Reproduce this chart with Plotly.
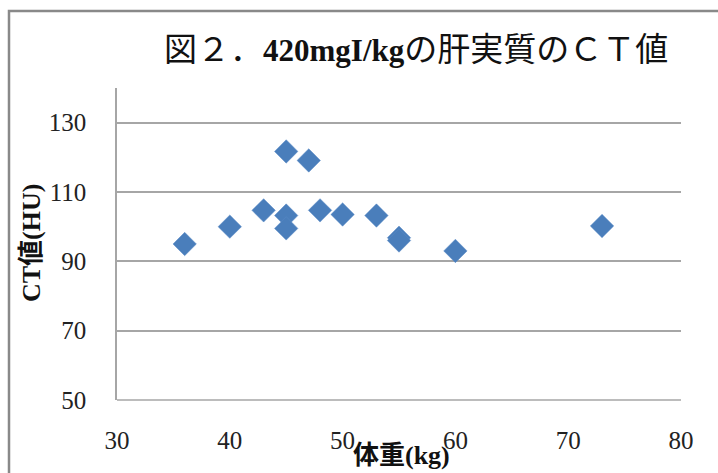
import plotly.graph_objects as go

weight = [36, 40, 43, 45, 45, 45, 47, 48, 50, 53, 55, 55, 60, 73]
ct_value = [95, 100, 104.7, 103.2, 99.5, 121.7, 119.1, 104.7, 103.5, 103.2, 96.8, 96.0, 93, 100.2]

title_parts = ["図２．", "420mgI/kg", "の肝実質のＣＴ値"]
x_title = "体重(kg)"
y_title = "CT値(HU)"
x_ticks = [30, 40, 50, 60, 70, 80]
y_ticks = [50, 70, 90, 110, 130]

W, H = 718, 473
L, R, T, B = 117, 37, 88, 73
pw, ph = W - L - R, H - T - B

def px_x(p):
    return (p - L) / pw

def px_y(p):
    return (H - B - p) / ph

serif = "Liberation Serif, DejaVu Serif, Noto Sans CJK JP, serif"

fig = go.Figure()
fig.add_trace(go.Scatter(
    x=weight, y=ct_value, mode="markers",
    marker=dict(symbol="diamond", size=18, color="#4A7EBB",
                line=dict(color="#5B8BC6", width=0.5)),
    showlegend=False, cliponaxis=False,
))

title_html = ('<span style="font-size:33px">' + title_parts[0] + '</span>'
              + '<b>' + title_parts[1] + '</b>'
              + '<span style="font-size:33px">' + title_parts[2] + '</span>')

fig.update_layout(
    width=W, height=H,
    margin=dict(l=L, r=R, t=T, b=B),
    paper_bgcolor="white", plot_bgcolor="white",
    xaxis=dict(range=[30, 80], tickvals=x_ticks, ticktext=[str(v) for v in x_ticks],
               showgrid=False, zeroline=False, showline=False,
               ticks="outside", ticklen=18, tickcolor="rgba(0,0,0,0)",
               tickfont=dict(family=serif, size=25, color="#222")),
    yaxis=dict(range=[50, 140], tickvals=y_ticks, ticktext=[str(v) for v in y_ticks],
               showgrid=True, gridcolor="#A6A6A6", gridwidth=1.5, zeroline=False,
               showline=True, linecolor="#A6A6A6", linewidth=1.5,
               ticks="outside", ticklen=24, tickcolor="rgba(0,0,0,0)",
               tickfont=dict(family=serif, size=25, color="#222")),
    shapes=[
        dict(type="rect", xref="paper", yref="paper",
             x0=px_x(9), x1=px_x(760), y0=px_y(520), y1=px_y(11),
             line=dict(color="#898989", width=2.5), fillcolor="rgba(0,0,0,0)", layer="below"),
        dict(type="line", xref="paper", yref="paper", x0=0, x1=1, y0=0, y1=0,
             line=dict(color="#A6A6A6", width=1.5)),
    ],
    annotations=[
        dict(text=title_html,
             xref="paper", yref="paper", x=px_x(416), y=px_y(50),
             xanchor="center", yanchor="middle", showarrow=False,
             font=dict(family=serif, size=31, color="#111")),
        dict(text="<b>" + x_title + "</b>", xref="paper", yref="paper", x=px_x(401), y=px_y(455),
             xanchor="center", yanchor="middle", showarrow=False,
             font=dict(family=serif, size=26, color="#111")),
        dict(text="<b>" + y_title + "</b>", xref="paper", yref="paper", x=px_x(31), y=px_y(243),
             xanchor="center", yanchor="middle", showarrow=False, textangle=-90,
             font=dict(family=serif, size=26, color="#111")),
    ],
)

fig.write_html("out.html")
